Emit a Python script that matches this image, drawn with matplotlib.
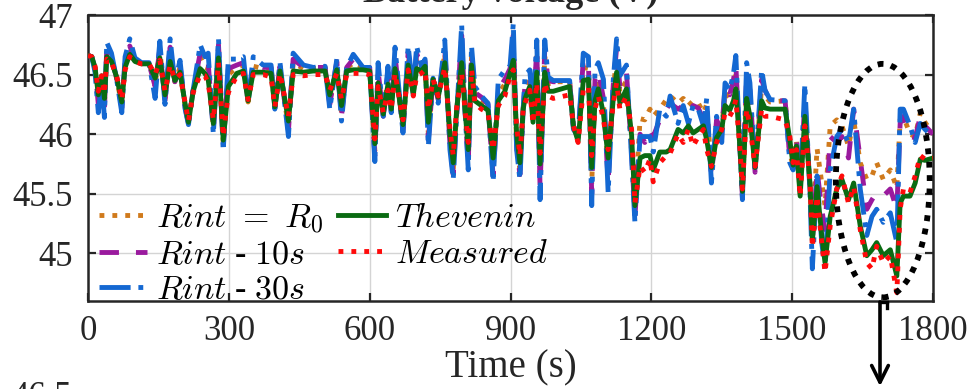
import matplotlib
matplotlib.use("Agg")
import matplotlib.pyplot as plt
from matplotlib.patches import Ellipse
from matplotlib.lines import Line2D

plt.rcParams['font.family'] = ['Liberation Serif', 'DejaVu Serif']
plt.rcParams['mathtext.fontset'] = 'cm'

# ---------------- data ----------------
time_s = [0, 8, 15, 22, 29, 35, 40, 50, 61, 72, 79, 89, 100, 114, 130, 143, 153, 164, 175, 185,
          196, 207, 214, 224, 239, 249, 256, 267, 278, 288, 299, 317, 331, 341, 352, 373, 390, 398, 409, 427,
          437, 459, 480, 505, 515, 530, 540, 551, 565, 586, 600, 611, 618, 629, 639, 646, 654, 671, 682, 693,
          700, 710, 718, 725, 735, 746, 760, 771, 778, 785, 796, 803, 810, 817, 824, 838, 852, 863, 874, 888,
          899, 906, 913, 920, 927, 931, 941, 948, 956, 963, 973, 980, 991, 1026, 1034, 1044, 1055, 1066, 1073, 1080,
          1087, 1098, 1108, 1119, 1126, 1133, 1147, 1158, 1165, 1176, 1186, 1197, 1204, 1218, 1232, 1240, 1257, 1268, 1279, 1289,
          1300, 1311, 1318, 1328, 1339, 1350, 1357, 1367, 1375, 1380, 1389, 1394, 1403, 1410, 1421, 1435, 1442, 1453, 1485, 1495,
          1502, 1509, 1517, 1527, 1538, 1543, 1553, 1563, 1570, 1581, 1595, 1606, 1620, 1631, 1645, 1659, 1670, 1680, 1694, 1709,
          1723, 1730, 1737, 1751, 1762, 1773, 1783, 1800]

measured = [46.66, 46.65, 46.57, 46.36, 46.49, 46.34, 46.63, 46.60, 46.49, 46.29, 46.54, 46.65, 46.61, 46.59, 46.59, 46.50, 46.62, 46.36, 46.58, 46.46,
            46.50, 46.26, 46.11, 46.35, 46.50, 46.49, 46.43, 46.12, 46.60, 45.98, 46.35, 46.49, 46.51, 46.29, 46.50, 46.50, 46.48, 46.23, 46.51, 46.15,
            46.50, 46.49, 46.50, 46.50, 46.37, 46.51, 46.29, 46.50, 46.51, 46.51, 46.50, 45.96, 46.40, 46.18, 46.37, 46.21, 46.51, 46.12, 46.54, 46.32,
            46.49, 46.51, 46.54, 46.21, 46.46, 46.32, 46.56, 46.04, 45.82, 46.21, 46.51, 46.21, 45.93, 46.54, 46.26, 46.21, 46.18, 45.87, 46.24, 46.32,
            46.49, 46.54, 46.07, 45.82, 46.21, 46.26, 46.37, 46.09, 46.43, 45.84, 46.43, 46.32, 46.30, 46.33, 46.07, 45.93, 46.37, 46.40, 45.82, 46.21,
            46.32, 46.12, 45.87, 46.26, 46.43, 46.21, 46.32, 46.04, 45.42, 45.73, 45.68, 45.79, 45.60, 45.76, 45.82, 45.84, 46.00, 45.93, 46.04, 45.90,
            45.98, 46.04, 45.87, 45.73, 45.93, 46.04, 46.18, 46.15, 46.21, 46.29, 45.87, 45.54, 46.21, 46.07, 45.73, 46.21, 46.15, 46.15, 46.12, 45.98,
            45.76, 45.87, 45.48, 46.07, 45.60, 45.05, 45.48, 45.09, 44.84, 45.23, 45.54, 45.65, 45.42, 45.56, 45.20, 44.92, 44.87, 45.06, 44.92, 44.98,
            44.67, 45.37, 45.54, 45.51, 45.65, 45.82, 45.79, 45.80]

thevenin = [46.66, 46.65, 46.56, 46.33, 46.49, 46.30, 46.65, 46.61, 46.48, 46.27, 46.56, 46.67, 46.61, 46.59, 46.59, 46.47, 46.64, 46.33, 46.61, 46.45,
            46.52, 46.25, 46.10, 46.36, 46.55, 46.51, 46.46, 46.09, 46.64, 45.95, 46.40, 46.51, 46.53, 46.28, 46.52, 46.52, 46.51, 46.23, 46.53, 46.11,
            46.53, 46.52, 46.53, 46.53, 46.33, 46.54, 46.24, 46.53, 46.54, 46.54, 46.53, 45.92, 46.43, 46.17, 46.42, 46.21, 46.55, 46.08, 46.58, 46.33,
            46.55, 46.53, 46.57, 46.10, 46.46, 46.31, 46.60, 46.00, 45.76, 46.19, 46.60, 46.21, 45.87, 46.58, 46.28, 46.24, 46.20, 45.80, 46.28, 46.36,
            46.51, 46.62, 46.00, 45.76, 46.21, 46.30, 46.40, 46.10, 46.52, 45.75, 46.52, 46.36, 46.36, 46.40, 46.07, 45.94, 46.45, 46.46, 45.72, 46.28,
            46.38, 46.17, 45.80, 46.30, 46.52, 46.26, 46.38, 45.99, 45.40, 45.80, 45.82, 45.82, 45.70, 45.85, 45.85, 45.87, 46.04, 46.01, 46.07, 46.01,
            46.04, 46.07, 45.95, 45.72, 45.97, 46.04, 46.24, 46.20, 46.28, 46.38, 45.87, 45.52, 46.30, 46.15, 45.72, 46.28, 46.22, 46.21, 46.21, 45.95,
            45.74, 45.90, 45.48, 46.15, 45.58, 45.10, 45.56, 45.15, 44.92, 45.31, 45.54, 45.62, 45.45, 45.59, 45.23, 44.98, 45.03, 45.09, 44.98, 45.03,
            44.81, 45.42, 45.48, 45.48, 45.59, 45.79, 45.78, 45.80]

rint_r0 = [46.66, 46.65, 46.55, 46.28, 46.48, 46.25, 46.70, 46.63, 46.47, 46.24, 46.60, 46.72, 46.62, 46.59, 46.59, 46.42, 46.70, 46.30, 46.70, 46.44,
           46.56, 46.23, 46.09, 46.37, 46.65, 46.56, 46.55, 46.05, 46.72, 45.92, 46.50, 46.56, 46.58, 46.27, 46.57, 46.55, 46.55, 46.22, 46.56, 46.05,
           46.60, 46.55, 46.55, 46.56, 46.28, 46.59, 46.18, 46.55, 46.60, 46.56, 46.55, 45.86, 46.50, 46.16, 46.48, 46.20, 46.62, 46.05, 46.65, 46.34,
           46.63, 46.55, 46.60, 46.00, 46.47, 46.30, 46.68, 45.94, 45.70, 46.17, 46.75, 46.21, 45.80, 46.65, 46.32, 46.28, 46.23, 45.70, 46.34, 46.42,
           46.53, 46.75, 45.93, 45.70, 46.21, 46.38, 46.45, 46.13, 46.65, 45.63, 46.65, 46.42, 46.44, 46.44, 46.06, 45.96, 46.56, 46.55, 45.58, 46.40,
           46.47, 46.25, 45.70, 46.38, 46.65, 46.35, 46.45, 45.92, 45.35, 46.13, 46.12, 46.21, 46.15, 46.21, 46.29, 46.32, 46.26, 46.30, 46.24, 46.28,
           46.26, 46.18, 46.25, 45.68, 46.08, 46.04, 46.35, 46.30, 46.40, 46.52, 45.87, 45.49, 46.42, 46.30, 45.70, 46.40, 46.32, 46.27, 46.28, 45.85,
           45.72, 45.95, 45.50, 46.25, 45.56, 45.15, 45.88, 45.59, 45.40, 46.07, 46.12, 46.07, 45.90, 46.12, 45.76, 45.62, 45.65, 45.76, 45.62, 45.70,
           45.55, 46.12, 46.15, 46.00, 45.98, 46.18, 46.10, 46.00]

rint_10s = [46.66, 46.65, 46.55, 46.25, 46.47, 46.22, 46.72, 46.64, 46.47, 46.22, 46.61, 46.74, 46.62, 46.59, 46.59, 46.40, 46.72, 46.28, 46.73, 46.44,
            46.58, 46.22, 46.09, 46.37, 46.68, 46.58, 46.60, 46.03, 46.75, 45.90, 46.55, 46.58, 46.60, 46.27, 46.60, 46.56, 46.56, 46.22, 46.57, 46.03,
            46.63, 46.56, 46.56, 46.56, 46.25, 46.61, 46.15, 46.56, 46.63, 46.56, 46.56, 45.82, 46.53, 46.15, 46.52, 46.19, 46.66, 46.03, 46.69, 46.34,
            46.68, 46.56, 46.61, 45.95, 46.47, 46.29, 46.72, 45.91, 45.66, 46.15, 46.83, 46.21, 45.75, 46.69, 46.35, 46.31, 46.25, 45.65, 46.37, 46.46,
            46.55, 46.83, 45.90, 45.66, 46.21, 46.42, 46.48, 46.16, 46.72, 45.55, 46.72, 46.45, 46.44, 46.44, 46.06, 45.97, 46.62, 46.60, 45.50, 46.46,
            46.53, 46.30, 45.60, 46.42, 46.72, 46.40, 46.52, 45.85, 45.30, 46.00, 45.93, 46.04, 45.98, 46.12, 46.21, 46.26, 46.21, 46.24, 46.18, 46.24,
            46.22, 46.12, 46.20, 45.65, 46.12, 46.03, 46.40, 46.33, 46.46, 46.58, 45.87, 45.47, 46.50, 46.37, 45.68, 46.46, 46.37, 46.28, 46.28, 45.80,
            45.71, 45.97, 45.52, 46.30, 45.55, 45.10, 45.70, 45.37, 45.20, 45.98, 45.93, 45.98, 45.80, 46.21, 45.79, 45.37, 45.45, 45.51, 45.48, 45.54,
            45.37, 46.09, 46.15, 45.98, 45.97, 46.15, 46.07, 46.00]

rint_30s = [46.66, 46.65, 46.52, 46.18, 46.45, 46.14, 46.77, 46.68, 46.46, 46.18, 46.65, 46.80, 46.64, 46.60, 46.60, 46.30, 46.78, 46.25, 46.80, 46.43,
            46.62, 46.21, 46.08, 46.37, 46.75, 46.65, 46.68, 46.00, 46.80, 45.86, 46.63, 46.63, 46.65, 46.26, 46.65, 46.58, 46.58, 46.21, 46.60, 45.98,
            46.68, 46.58, 46.56, 46.57, 46.21, 46.63, 46.11, 46.56, 46.67, 46.56, 46.56, 45.77, 46.60, 46.15, 46.57, 46.18, 46.73, 46.01, 46.74, 46.35,
            46.74, 46.57, 46.63, 45.90, 46.47, 46.26, 46.79, 45.87, 45.62, 46.12, 46.92, 46.21, 45.70, 46.74, 46.40, 46.32, 46.26, 45.60, 46.46, 46.54,
            46.57, 46.93, 45.87, 45.62, 46.21, 46.49, 46.54, 46.21, 46.79, 45.45, 46.79, 46.48, 46.45, 46.45, 46.04, 45.98, 46.68, 46.65, 45.40, 46.54,
            46.60, 46.46, 45.51, 46.46, 46.80, 46.49, 46.58, 45.79, 45.26, 45.98, 45.98, 45.98, 45.85, 46.21, 46.15, 46.32, 46.09, 46.24, 46.09, 46.24,
            46.21, 46.07, 46.30, 45.59, 46.15, 45.93, 46.43, 46.37, 46.51, 46.66, 45.87, 45.45, 46.60, 46.43, 45.68, 46.54, 46.37, 46.29, 46.28, 45.76,
            45.70, 45.93, 45.54, 46.42, 45.50, 44.87, 45.65, 45.09, 44.87, 45.70, 45.98, 46.04, 45.93, 46.21, 45.54, 45.15, 45.31, 45.37, 45.26, 45.34,
            45.09, 46.21, 46.21, 46.07, 45.93, 46.09, 46.04, 45.98]

labels = [r'$Rint\ =\ R_0$', r'$Rint$ - $\mathit{10s}$', r'$Rint$ - $\mathit{30s}$', r'$Thevenin$', r'$Measured$']
x_ticks = [0, 300, 600, 900, 1200, 1500, 1800]
y_ticks = [45, 45.5, 46, 46.5, 47]
y_tick_labels = ['45', '45.5', '46', '46.5', '47']

# ---------------- figure ----------------
W, H = 967, 389
fig = plt.figure(figsize=(W / 100, H / 100), dpi=100)
ax = fig.add_axes([88 / W, 1 - 301 / H, 845 / W, 286 / H])

lw = 3.5
c_or, c_pu, c_bl, c_gr, c_rd = '#D07A1C', '#9A1A9E', '#1468D2', '#0A6B12', '#FF0A0A'
ax.plot(time_s, rint_r0, color=c_or, ls=':', lw=lw, label=labels[0], zorder=2)
ax.plot(time_s, rint_10s, color=c_pu, ls=(0, (4, 3.5)), lw=lw, label=labels[1], zorder=3)
ax.plot(time_s, rint_30s, color=c_bl, ls='-.', lw=lw, label=labels[2], zorder=4)
ax.plot(time_s, thevenin, color=c_gr, ls='-', lw=lw, label=labels[3], zorder=5)
ax.plot(time_s, measured, color=c_rd, ls=':', lw=lw, label=labels[4], zorder=6)

ax.set_xlim(0, 1800)
ax.set_ylim(44.6, 47)
ax.set_xticks(x_ticks)
ax.set_yticks(y_ticks)
ax.set_yticklabels(y_tick_labels)
ax.grid(True, color='#d4d4d4', lw=1.0)
ax.set_axisbelow(True)
ax.tick_params(direction='in', length=6, width=1.6, top=True, right=True,
               labelsize=25, pad=10, colors='#262626')
ax.tick_params(axis='y', pad=11)
for s in ax.spines.values():
    s.set_linewidth(1.8)
    s.set_color('#262626')

ax.set_xlabel('Time (s)', fontsize=28, labelpad=1, color='#262626')
ax.set_title('Battery voltage (V)', fontsize=26, fontweight='bold', pad=9, color='#262626')

leg = ax.legend(loc='lower left', bbox_to_anchor=(0.013, -0.018), ncol=2, frameon=False, fontsize=24.5,
                handlelength=1.4, handletextpad=0.27, columnspacing=0.45,
                labelspacing=0.13, borderaxespad=0.0, borderpad=0.0)

# dotted ellipse highlighting the end of the record
ell = Ellipse((1693, 45.61), width=200, height=1.96, fill=False, ec='black',
              lw=4.2, ls=(0, (1, 1.3)), zorder=10, clip_on=False)
ax.add_patch(ell)

# arrow pointing down to the next panel
fig.add_artist(Line2D([880 / W, 887 / W], [1 - 302 / H, 1 - 302 / H], color='black', lw=2.4))
fig.add_artist(Line2D([887 / W, 887 / W], [1 - 302 / H, 1 - 308 / H], color='black', lw=2.4))
ax.annotate('', xy=(880 / W, 1 - 389 / H), xytext=(880 / W, 1 - 302 / H),
            xycoords='figure fraction', textcoords='figure fraction',
            arrowprops=dict(arrowstyle='->', lw=2.6, color='black', mutation_scale=30,
                            shrinkA=0, shrinkB=2), annotation_clip=False)

# top of the next panel's tick label, cut by the figure edge
fig.text(72 / W, 1 - 406 / H, '46.5', ha='right', va='baseline', fontsize=25, color='#262626')

fig.savefig('out.png', dpi=100)
